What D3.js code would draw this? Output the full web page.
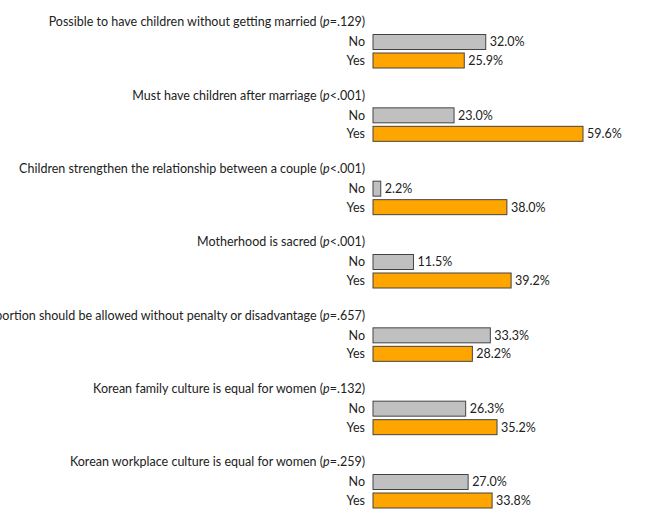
<!DOCTYPE html>
<html>
<head>
<meta charset="utf-8">
<script src="https://cdn.jsdelivr.net/npm/d3@7"></script>
<style>
  body { margin: 0; background: #fff; }
  text { font-family: "Liberation Sans Narrow", Lato, "DejaVu Sans Condensed", sans-serif; font-size: 12.5px; fill: #222; }
</style>
</head>
<body>
<div id="chart"></div>
<script>
// Chart data
const questions = [
  "Possible to have children without getting married",
  "Must have children after marriage",
  "Children strengthen the relationship between a couple",
  "Motherhood is sacred",
  "Abortion should be allowed without penalty or disadvantage",
  "Korean family culture is equal for women",
  "Korean workplace culture is equal for women"
];
const pValues = ["=.129", "<.001", "<.001", "<.001", "=.657", "=.132", "=.259"];
const noValues = [32.0, 23.0, 2.2, 11.5, 33.3, 26.3, 27.0];
const yesValues = [25.9, 59.6, 38.0, 39.2, 28.2, 35.2, 33.8];
const groups = ["No", "Yes"];

const width = 645, height = 514;
const svg = d3.select("#chart").append("svg")
  .attr("width", width)
  .attr("height", height);

const x = d3.scaleLinear().domain([0, 59.6]).range([373, 583]);
const groupY = d3.scaleLinear().domain([0, 6]).range([22, 462]);
const labelX = 365;

const color = { No: "#c0c0c0", Yes: "#ffa500" };

questions.forEach((q, i) => {
  const g = svg.append("g").attr("transform", `translate(0,${groupY(i)})`);

  // Title with italic p
  const t = g.append("text")
    .attr("x", labelX)
    .attr("y", 0)
    .attr("dy", "0.35em")
    .attr("text-anchor", "end");
  t.append("tspan").text(q + " (");
  t.append("tspan").attr("font-style", "italic").text("p");
  t.append("tspan").text(pValues[i] + ")");

  const vals = [noValues[i], yesValues[i]];
  groups.forEach((grp, j) => {
    const yTop = 12.5 + j * 18.5;
    g.append("rect")
      .attr("x", x(0))
      .attr("y", yTop)
      .attr("width", x(vals[j]) - x(0))
      .attr("height", 15)
      .attr("fill", color[grp])
      .attr("stroke", "#444")
      .attr("stroke-width", 1);
    g.append("text")
      .attr("x", labelX)
      .attr("y", yTop + 7.5)
      .attr("dy", "0.35em")
      .attr("text-anchor", "end")
      .text(grp);
    g.append("text")
      .attr("x", x(vals[j]) + 4)
      .attr("y", yTop + 7.5)
      .attr("dy", "0.35em")
      .text(vals[j].toFixed(1) + "%");
  });
});
</script>
</body>
</html>
